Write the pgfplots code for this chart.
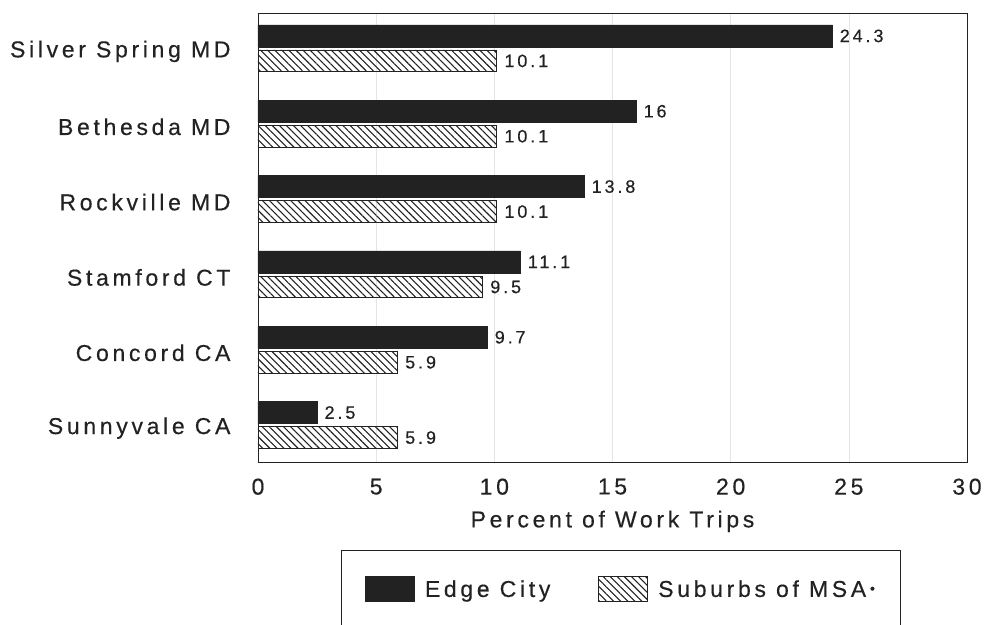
\documentclass[border=0pt]{standalone}
\usepackage{fontspec}
\setmainfont{Liberation Sans}[LetterSpace=16, FakeBold=0.4]
\usepackage{pgfplots}
\pgfplotsset{compat=1.18}
\usetikzlibrary{patterns.meta}
\definecolor{ink}{HTML}{222222}
\tikzset{hatch/.style={pattern={Lines[angle=-45,distance=5pt,line width=1.1pt]},pattern color=ink}}
\begin{document}
\begin{tikzpicture}
\begin{axis}[
  name=ax,
  scale only axis,
  width=709pt, height=449pt,
  xbar,
  xmin=0, xmax=30,
  ymin=-0.47, ymax=5.49,
  y dir=reverse,
  bar width=0.29,
  xtick={0,5,10,15,20,25,30},
  ytick={0,1,2,3,4,5},
  yticklabels={Silver Spring MD,Bethesda MD,Rockville MD,Stamford CT,Concord CA,Sunnyvale CA},
  major tick length=0pt,
  xmajorgrids,
  grid style={black!10, line width=0.6pt},
  axis line style={ink, line width=0.9pt},
  tick label style={font=\fontsize{23}{27}\selectfont, text=ink},
  yticklabel style={xshift=-24pt, yshift=-3pt},
  xticklabel style={yshift=-13pt},
  /pgf/number format/assume math mode=true,
  xlabel={Percent of Work Trips},
  xlabel style={font=\fontsize{23}{27}\selectfont, text=ink, yshift=-9pt},
  nodes near coords,
  nodes near coords style={font=\fontsize{18}{21}\selectfont, text=ink, xshift=4pt},
  legend style={at={(0.512,-0.196)}, anchor=north, legend columns=2,
    draw=ink, line width=0.9pt, inner xsep=24pt, inner ysep=26pt,
    font=\fontsize{23}{27}\selectfont, text=ink,
    /tikz/every even column/.append style={column sep=46pt}},
  legend image code/.code={\draw[#1, line width=0.8pt] (0pt,-12.5pt) rectangle (49pt,12.5pt); \path (57pt,0pt);},
]
\addplot[fill=ink, draw=ink, bar shift=-0.166] coordinates {
  (24.3,0) (16,1) (13.8,2) (11.1,3) (9.7,4) (2.5,5)};
\addlegendentry{Edge City}
\addplot[hatch, draw=ink, line width=0.9pt, bar shift=0.166] coordinates {
  (10.1,0) (10.1,1) (10.1,2) (9.5,3) (5.9,4) (5.9,5)};
\addlegendentry{Suburbs of MSA\,\raisebox{0.3ex}{\fontsize{14}{14}\selectfont •}}
\end{axis}
\pgfresetboundingbox
\path ([shift={(-258pt,-162pt)}]ax.south west) rectangle ([shift={(26pt,13pt)}]ax.north east);
\end{tikzpicture}
\end{document}
